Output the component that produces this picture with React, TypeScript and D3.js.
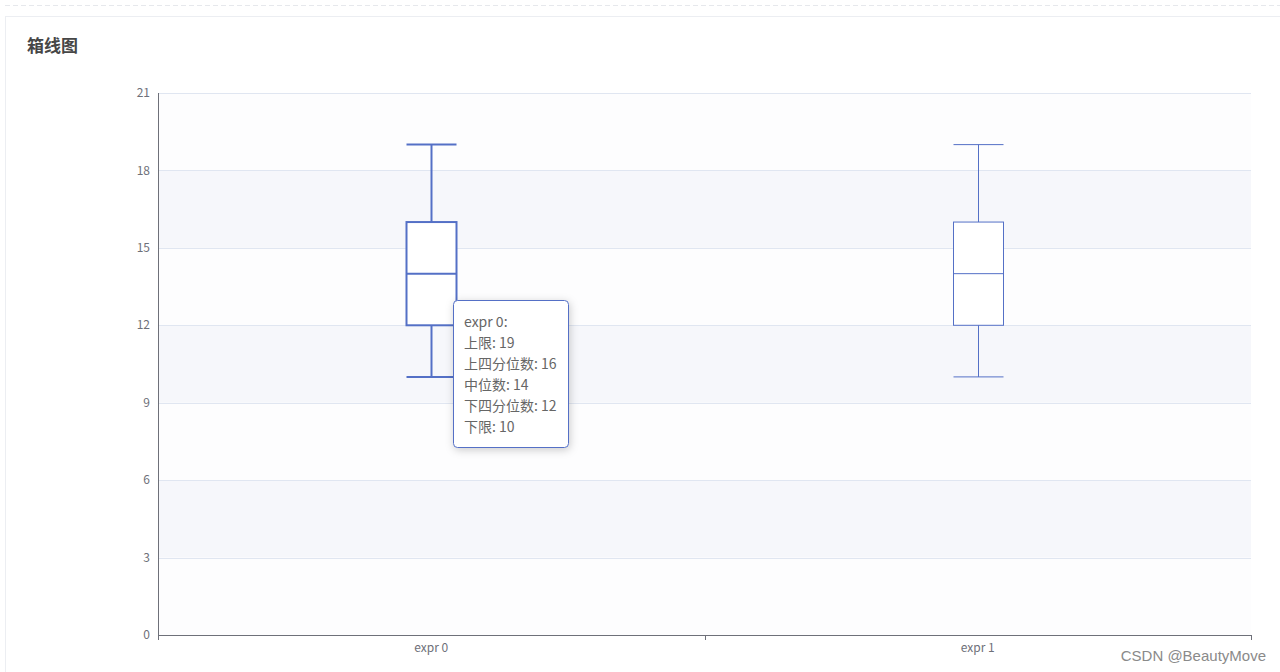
import React from "react";
import * as d3 from "d3";

const categories = ["expr 0", "expr 1"];
const upper = [19, 19];
const q3 = [16, 16];
const median = [14, 14];
const q1 = [12, 12];
const lower = [10, 10];
const yTicks = [0, 3, 6, 9, 12, 15, 18, 21];
const title = "箱线图";
const tooltipLabels = ["上限", "上四分位数", "中位数", "下四分位数", "下限"];
const watermark = "CSDN @BeautyMove";

const W = 1280;
const H = 672;
const M = { left: 158, right: 1251, top: 93, bottom: 635 };
const COLOR = "#5470c6";
const FONT = "'Noto Sans CJK SC', 'Noto Sans', sans-serif";

export default function App() {
  const x = d3.scaleBand<string>().domain(categories).range([M.left, M.right]);
  const y = d3.scaleLinear().domain([0, 21]).range([M.bottom, M.top]);
  const bw = 50;
  const bands = yTicks.slice(0, -1);

  const hovered = 0;
  const tipVals = [upper[hovered], q3[hovered], median[hovered], q1[hovered], lower[hovered]];
  const tipX = 453;
  const tipY = 300;

  return (
    <svg
      width={W}
      height={H}
      style={{ position: "absolute", left: 0, top: 0, background: "#fff" }}
      fontFamily={FONT}
    >
      <defs>
        <filter id="tipShadow" x="-20%" y="-20%" width="140%" height="140%">
          <feDropShadow dx="1" dy="2" stdDeviation="4" floodColor="#000" floodOpacity="0.2" />
        </filter>
      </defs>
      <line x1={5} x2={W} y1={5.5} y2={5.5} stroke="#e6e8ec" strokeDasharray="5,3" />
      <rect x={5.5} y={16.5} width={W} height={H} fill="#fff" stroke="#eceef2" />
      <text x={27} y={52} fontSize={17} fontWeight="bold" fill="#464646">
        {title}
      </text>

      {bands.map((t, i) => (
        <rect
          key={"b" + t}
          x={M.left}
          y={y(t + 3)}
          width={M.right - M.left}
          height={y(t) - y(t + 3)}
          fill={i % 2 === 0 ? "#fdfdfe" : "#f6f7fb"}
        />
      ))}
      {yTicks.slice(1).map((t) => (
        <line
          key={"g" + t}
          x1={M.left}
          x2={M.right}
          y1={Math.round(y(t)) + 0.5}
          y2={Math.round(y(t)) + 0.5}
          stroke="#e0e6f1"
        />
      ))}
      {yTicks.map((t) => (
        <text
          key={"yl" + t}
          x={150}
          y={y(t)}
          dy="0.35em"
          textAnchor="end"
          fontSize={12}
          fill="#6e7079"
        >
          {t}
        </text>
      ))}
      <line x1={M.left + 0.5} x2={M.left + 0.5} y1={M.top} y2={M.bottom} stroke="#6e7079" />
      <line x1={M.left} x2={M.right} y1={M.bottom + 0.5} y2={M.bottom + 0.5} stroke="#6e7079" />
      {[M.left, M.left + x.step(), M.right].map((tx, i) => (
        <line
          key={"xt" + i}
          x1={Math.round(tx) + 0.5}
          x2={Math.round(tx) + 0.5}
          y1={M.bottom}
          y2={M.bottom + 5}
          stroke="#6e7079"
        />
      ))}
      {categories.map((c) => (
        <text
          key={"xl" + c}
          x={(x(c) as number) + x.bandwidth() / 2}
          y={648}
          dy="0.35em"
          textAnchor="middle"
          fontSize={12}
          fill="#6e7079"
        >
          {c}
        </text>
      ))}

      {categories.map((c, i) => {
        const cx = Math.round((x(c) as number) + x.bandwidth() / 2) + 0.5;
        const sw = i === hovered ? 2 : 1;
        const l = cx - bw / 2;
        const r = cx + bw / 2;
        return (
          <g key={"box" + c} stroke={COLOR} strokeWidth={sw} fill="none">
            <line x1={l} x2={r} y1={y(upper[i])} y2={y(upper[i])} />
            <line x1={cx} x2={cx} y1={y(upper[i])} y2={y(q3[i])} />
            <rect x={l} y={y(q3[i])} width={bw} height={y(q1[i]) - y(q3[i])} fill="#fff" />
            <line x1={l} x2={r} y1={y(median[i])} y2={y(median[i])} />
            <line x1={cx} x2={cx} y1={y(q1[i])} y2={y(lower[i])} />
            <line x1={l} x2={r} y1={y(lower[i])} y2={y(lower[i])} />
          </g>
        );
      })}

      <g transform={`translate(${tipX},${tipY})`}>
        <rect
          x={0.5}
          y={0.5}
          width={115}
          height={147}
          rx={4}
          fill="#fff"
          stroke={COLOR}
          filter="url(#tipShadow)"
        />
        <text x={11} y={27} fontSize={14} fill="#666">
          {categories[hovered] + ":"}
        </text>
        {tooltipLabels.map((lab, k) => (
          <text key={"tt" + k} x={11} y={27 + 21 * (k + 1)} fontSize={14} fill="#666">
            {lab + ": " + tipVals[k]}
          </text>
        ))}
      </g>

      <text x={1266} y={661} textAnchor="end" fontSize={15} fill="#8a8a8a" fontFamily="'Liberation Sans', Arial, sans-serif">
        {watermark}
      </text>
    </svg>
  );
}
